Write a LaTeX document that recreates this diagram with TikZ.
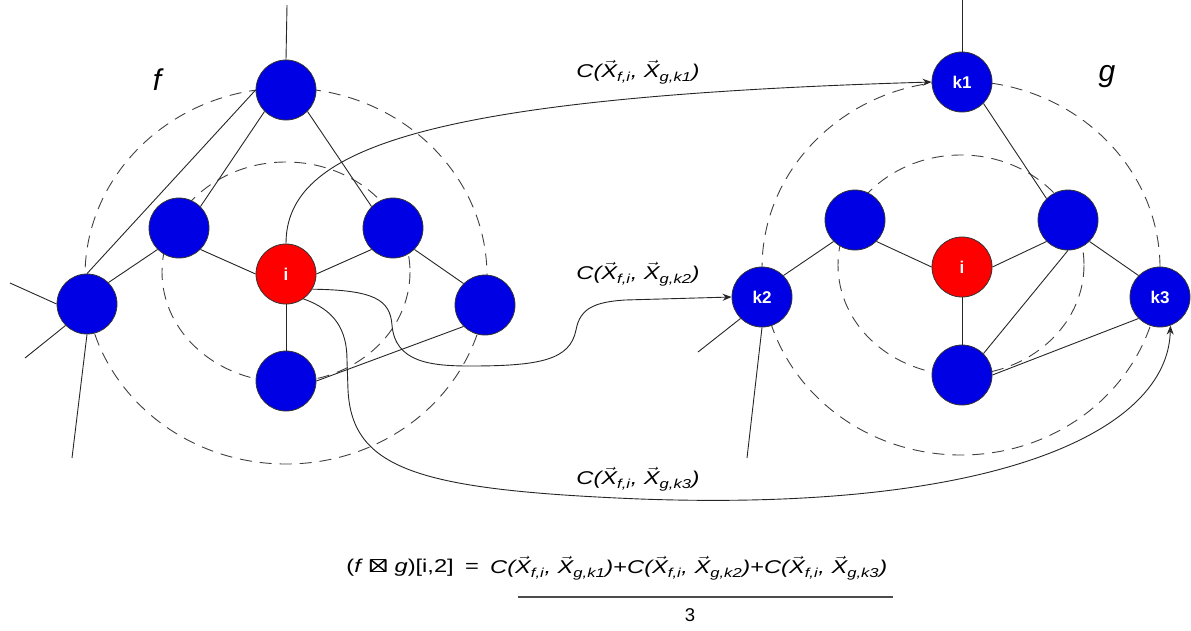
\documentclass[tikz,border=0pt]{standalone}
\usepackage{amsmath,amssymb}
\usepackage{fontspec}
\setmainfont{Liberation Sans}
\usetikzlibrary{arrows.meta}

\definecolor{nodeblue}{RGB}{0,0,228}
\definecolor{nodered}{RGB}{255,0,0}

\newcommand{\vX}[1]{\vec{\textit{X}}_{\textit{#1}}}
\newcommand{\cterm}[2]{\textit{C($\vX{#1}$, $\vX{#2}$)}}
\newcommand{\wide}[1]{\scalebox{1.28}[1]{#1}}

\tikzset{
  vertex/.style={circle, draw=black!80, fill=nodeblue, minimum size=60pt, inner sep=0pt,
    line width=0.8pt, text=white, font=\bfseries\fontsize{17}{17}\selectfont},
  seed/.style={vertex, fill=nodered},
  hop/.style={draw=black!75, line width=0.9pt, dash pattern=on 12pt off 8pt},
  wire/.style={draw=black!85, line width=0.9pt},
  flow/.style={wire, -{Stealth[length=9pt,width=7pt]}},
  cost/.style={font=\fontsize{18.5}{20}\selectfont, inner sep=1pt},
  graphname/.style={font=\itshape\fontsize{30}{30}\selectfont},
}

\begin{document}
\begin{tikzpicture}[x=1pt, y=-1pt]
      \useasboundingbox (0,0) rectangle (1191,630);

      % Define coordinates
      \coordinate (fup) at (287,5);
      \coordinate (fw) at (10,283);
      \coordinate (fsw) at (25,358);
      \coordinate (fs) at (72,458);
      \coordinate (gup) at (962,0);
      \coordinate (gsw) at (698,352);
      \coordinate (gs) at (747,458);

      % Draw the dashed neighbourhood rings
      \draw[hop] (286,276) ellipse [x radius=201, y radius=188];
      \draw[hop] (286,272) ellipse [x radius=124, y radius=110];
      \draw[hop] (961,268) ellipse [x radius=199, y radius=187];
      \draw[hop] (961,265) ellipse [x radius=123, y radius=110];

      % Draw the nodes of f
      \node[vertex] (ftop) at (286,90) {};
      \node[vertex] (flm) at (179,228) {};
      \node[vertex] (frm) at (393,228) {};
      \node[seed] (fi) at (286,274) {i};
      \node[vertex] (ffl) at (87,304) {};
      \node[vertex] (fr) at (485,305) {};
      \node[vertex] (fbot) at (286,381) {};
      \node[graphname] (fname) at (157,80) {f};

      % Draw the nodes of g
      \node[vertex] (gk1) at (962,82) {k1};
      \node[vertex] (glm) at (855,220) {};
      \node[vertex] (grm) at (1068,220) {};
      \node[seed] (gi) at (962,267) {i};
      \node[vertex] (gk2) at (762,297) {k2};
      \node[vertex] (gk3) at (1160,297) {k3};
      \node[vertex] (gbot) at (962,375) {};
      \node[graphname] (gname) at (1107,77) {g};

      % Draw the edges of f
      \draw[wire] (ftop.north) -- (fup);
      \draw[wire] (ftop.west) -- (ffl.north);
      \draw[wire] (ftop.south west) -- (flm.north east);
      \draw[wire] (ftop.south east) -- (frm.north west);
      \draw[wire] (flm.south east) -- (fi.west);
      \draw[wire] (fi.east) -- (frm.south west);
      \draw[wire] (ffl.north east) -- (flm.south west);
      \draw[wire] (frm.south east) -- (fr.north west);
      \draw[wire] (fi.south) -- (fbot.north);
      \draw[wire] (fbot.east) -- (fr.south west);
      \draw[wire] (ffl.west) -- (fw);
      \draw[wire] (ffl.south west) -- (fsw);
      \draw[wire] (ffl.south) -- (fs);

      % Draw the edges of g
      \draw[wire] (gk1.north) -- (gup);
      \draw[wire] (gk1.south east) -- (grm.north west);
      \draw[wire] (gk2.north east) -- (glm.south west);
      \draw[wire] (glm.south east) -- (gi.west);
      \draw[wire] (gi.east) -- (grm.south west);
      \draw[wire] (grm.south east) -- (gk3.north west);
      \draw[wire] (gi.south) -- (gbot.north);
      \draw[wire] (gbot.north east) -- (grm.south);
      \draw[wire] (gbot.east) -- (gk3.south west);
      \draw[wire] (gk2.south west) -- (gsw);
      \draw[wire] (gk2.south) -- (gs);

      % Draw the comparison arrows from i
      \draw[flow] (fi.north) .. controls (286,150) and (420,97) .. (gk1.west);
      \draw[flow] (fi.-30) .. controls (375,290) and (390,300) .. (392,325)
        .. controls (395,362) and (430,366) .. (470,366)
        .. controls (540,366) and (570,360) .. (576,330)
        .. controls (580,308) and (595,302) .. (625,300) -- (gk2.west);
      \draw[flow] (fi.-55) .. controls (335,310) and (347,330) .. (347,360) -- (348,390)
        .. controls (352,470) and (420,490) .. (640,499)
        .. controls (1000,512) and (1168,430) .. (gk3.-70);

      % Arrow labels
      \node[cost] (c1) at (638,72) {\wide{\cterm{f,i}{g,k1}}};
      \node[cost] (c2) at (638,274) {\wide{\cterm{f,i}{g,k2}}};
      \node[cost] (c3) at (638,479) {\wide{\cterm{f,i}{g,k3}}};

      % Formula
      \node[cost, anchor=east] (lhs) at (455,568) {\wide{(\textit{f} $\pmb{\boxtimes}$ \textit{g})[i,2]}};
      \node[cost] (eq) at (472,568) {\wide{=}};
      \node[cost, anchor=west] (num) at (489,568) {\wide{\cterm{f,i}{g,k1}+\cterm{f,i}{g,k2}+\cterm{f,i}{g,k3}}};
      \coordinate (barl) at (518,597);
      \coordinate (barr) at (893,597);
      \draw[draw=black!70, line width=1.3pt] (barl) -- (barr);
      \node[cost] (den) at (690,615) {3};
    \end{tikzpicture}
\end{document}
